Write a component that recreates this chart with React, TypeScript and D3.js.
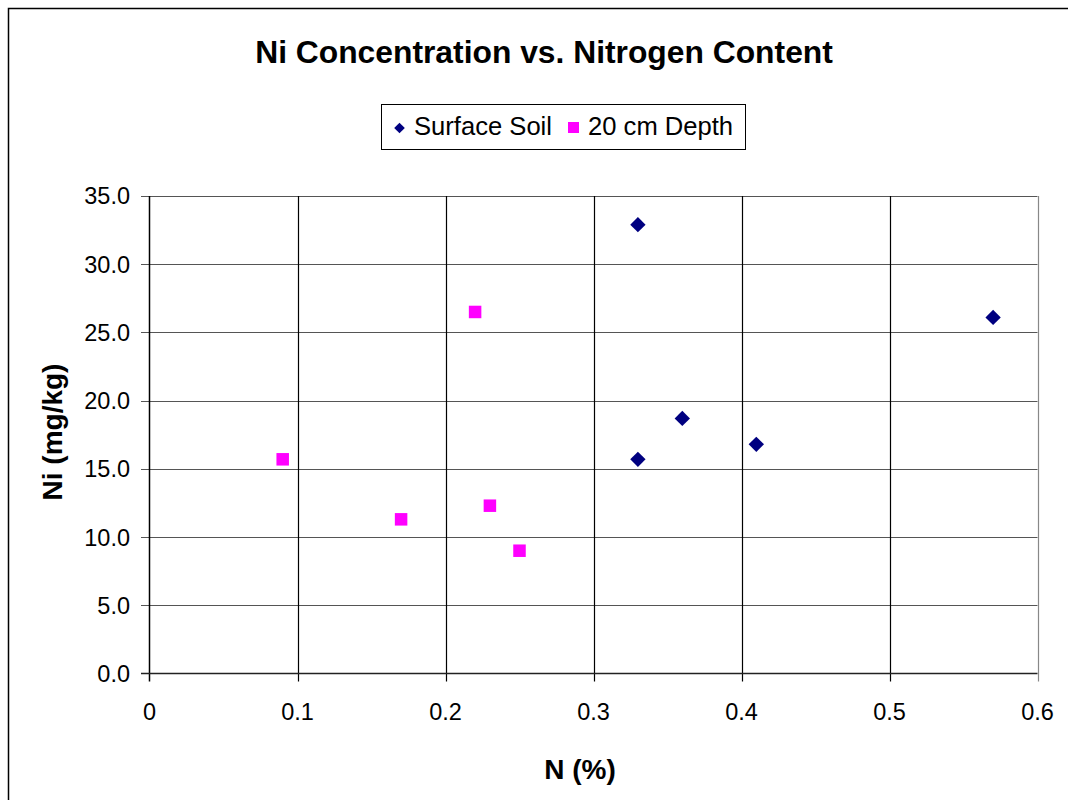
import React from "react";
import * as d3 from "d3";

const surfaceN = [0.33, 0.57, 0.36, 0.33, 0.41];
const surfaceNi = [32.9, 26.1, 18.7, 15.7, 16.8];
const depthN = [0.22, 0.09, 0.17, 0.23, 0.25];
const depthNi = [26.5, 15.7, 11.3, 12.3, 9.0];
const xTicks = [0, 0.1, 0.2, 0.3, 0.4, 0.5, 0.6];
const yTicks = [0, 5, 10, 15, 20, 25, 30, 35];
const seriesNames = ["Surface Soil", "20 cm Depth"];
const title = "Ni Concentration vs. Nitrogen Content";
const xTitle = "N (%)";
const yTitle = "Ni (mg/kg)";

const W = 1068;
const H = 800;
const left = 149.5;
const right = 1037.5;
const top = 196;
const bottom = 673.5;
const FONT = "Liberation Sans, Arial, sans-serif";

export default function App() {
  const x = d3.scaleLinear().domain([0, 0.6]).range([left, right]);
  const y = d3.scaleLinear().domain([0, 35]).range([bottom, top]);
  const diamond = d3.symbol().type(d3.symbolDiamond2 || d3.symbolDiamond).size(150)();
  const diamondSmall = d3.symbol().type(d3.symbolDiamond2 || d3.symbolDiamond).size(72)();
  const sq = 12.5;

  return (
    <svg
      width={W}
      height={H}
      style={{ position: "absolute", left: 0, top: 0, display: "block", background: "#fff" }}
      fontFamily={FONT}
    >
      <rect x={8.5} y={8.5} width={1200} height={1000} fill="#fff" stroke="#000" strokeWidth={1.5} />
      <text x={544} y={63} textAnchor="middle" fontSize={31.8} fontWeight="bold">
        {title}
      </text>

      {/* legend */}
      <rect x={381.5} y={104.5} width={364} height={45} fill="#fff" stroke="#000" strokeWidth={1} />
      <path d={diamondSmall} transform="translate(399.5,128)" fill="#000080" />
      <text x={414} y={135} fontSize={25.6}>{seriesNames[0]}</text>
      <rect x={568} y={122} width={11} height={11} fill="#FF00FF" />
      <text x={588} y={135} fontSize={25.6}>{seriesNames[1]}</text>

      {/* grid */}
      {yTicks.filter((t) => t > 0).map((t) => (
        <line key={"gy" + t} x1={141} x2={right} y1={Math.round(y(t)) + 0.5} y2={Math.round(y(t)) + 0.5} stroke="#555" strokeWidth={1.2} />
      ))}
      {xTicks.filter((t) => t > 0).map((t) => (
        <line key={"gx" + t} x1={Math.round(x(t)) + 0.5} x2={Math.round(x(t)) + 0.5} y1={top} y2={bottom + 8} stroke={t === 0.6 ? "#888" : "#000"} strokeWidth={1.2} />
      ))}
      {/* axes */}
      <line x1={left} x2={left} y1={top} y2={bottom + 8} stroke="#000" strokeWidth={1.5} />
      <line x1={141} x2={right} y1={bottom} y2={bottom} stroke="#222" strokeWidth={1.5} />

      {/* tick labels */}
      {yTicks.map((t) => (
        <text key={"ty" + t} x={130} y={y(t)} dy="0.36em" textAnchor="end" fontSize={23.5}>
          {d3.format(".1f")(t)}
        </text>
      ))}
      {xTicks.map((t) => (
        <text key={"tx" + t} x={x(t)} y={720} textAnchor="middle" fontSize={23.5}>
          {t === 0 ? "0" : d3.format(".1f")(t)}
        </text>
      ))}

      {/* axis titles */}
      <text x={580} y={779} textAnchor="middle" fontSize={28} fontWeight="bold">
        {xTitle}
      </text>
      <text transform="translate(62,432) rotate(-90)" textAnchor="middle" fontSize={28} fontWeight="bold">
        {yTitle}
      </text>

      {/* points */}
      {surfaceN.map((n, i) => (
        <path key={"s" + i} d={diamond} transform={`translate(${x(n)},${y(surfaceNi[i])})`} fill="#000080" />
      ))}
      {depthN.map((n, i) => (
        <rect key={"d" + i} x={x(n) - sq / 2} y={y(depthNi[i]) - sq / 2} width={sq} height={sq} fill="#FF00FF" />
      ))}
    </svg>
  );
}
